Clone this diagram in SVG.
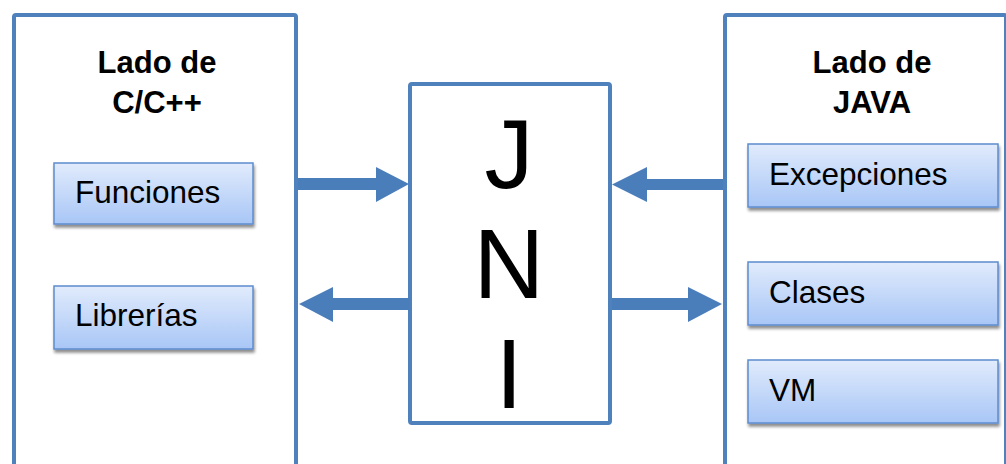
<svg xmlns="http://www.w3.org/2000/svg" width="1006" height="464" viewBox="0 0 1006 464">
  <defs>
    <linearGradient id="itemFill" x1="0" y1="0" x2="0" y2="1">
      <stop offset="0" stop-color="#e1ebfc"/>
      <stop offset="1" stop-color="#a8c6f6"/>
    </linearGradient>
    <filter id="shadow" x="-10%" y="-20%" width="125%" height="150%">
      <feGaussianBlur in="SourceAlpha" stdDeviation="1.8"/>
      <feOffset dx="1" dy="3" result="b"/>
      <feComponentTransfer><feFuncA type="linear" slope="0.45"/></feComponentTransfer>
      <feMerge><feMergeNode/><feMergeNode in="SourceGraphic"/></feMerge>
    </filter>
  </defs>
  <style>
    .panel { fill: #ffffff; stroke: #4f81bd; stroke-width: 4; }
    .item { fill: url(#itemFill); stroke: #5d8ccf; stroke-width: 1.5; filter: url(#shadow); }
    .title { font-family: "Liberation Sans", Arial, sans-serif; font-weight: bold; font-size: 31px; fill: #000; text-anchor: middle; }
    .label { font-family: "Liberation Sans", Arial, sans-serif; font-size: 31.5px; fill: #000; }
    .big { font-family: "Liberation Sans", Arial, sans-serif; font-size: 98px; fill: #000; text-anchor: middle; }
    .arrow { fill: #4a7ebb; }
  </style>

  <rect width="1006" height="464" fill="#ffffff"/>

  <!-- C/C++ side -->
  <g id="c-side">
    <rect class="panel" x="14" y="15" width="282" height="470" rx="2"/>
    <text class="title" x="157" y="73">Lado de</text>
    <text class="title" x="157" y="113">C/C++</text>
  </g>
  <g id="funciones">
    <rect class="item" x="54" y="163" width="199" height="61"/>
    <text class="label" x="75" y="203">Funciones</text>
  </g>
  <g id="librerias">
    <rect class="item" x="54" y="286" width="199" height="63"/>
    <text class="label" x="75" y="326">Librerías</text>
  </g>

  <!-- JAVA side -->
  <g id="java-side">
    <rect class="panel" x="725" y="15" width="281" height="470" rx="2"/>
    <text class="title" x="872" y="73">Lado de</text>
    <text class="title" x="872" y="113">JAVA</text>
  </g>
  <g id="excepciones">
    <rect class="item" x="748" y="144" width="250" height="63"/>
    <text class="label" x="769" y="185">Excepciones</text>
  </g>
  <g id="clases">
    <rect class="item" x="748" y="262" width="250" height="63"/>
    <text class="label" x="769" y="303">Clases</text>
  </g>
  <g id="vm">
    <rect class="item" x="748" y="360" width="250" height="63"/>
    <text class="label" x="769" y="401">VM</text>
  </g>

  <!-- JNI bridge -->
  <g id="jni">
    <rect class="panel" x="410" y="84" width="200" height="339" rx="2"/>
    <text class="big" x="509" y="188">J</text>
    <text class="big" x="509" y="298">N</text>
    <text class="big" x="509" y="408">I</text>
  </g>

  <!-- block arrows between the sides and JNI -->
  <g id="connectors">
    <polygon class="arrow" points="298,178 376,178 376,167 409,184 376,202 376,190 298,190"/>
    <polygon class="arrow" points="410,298 333,298 333,287 299,304 333,322 333,310 410,310"/>
    <polygon class="arrow" points="723,179 647,179 647,167 612,184.5 647,202 647,190 723,190"/>
    <polygon class="arrow" points="612,298 688,298 688,287 722,304 688,322 688,310 612,310"/>
  </g>
</svg>
